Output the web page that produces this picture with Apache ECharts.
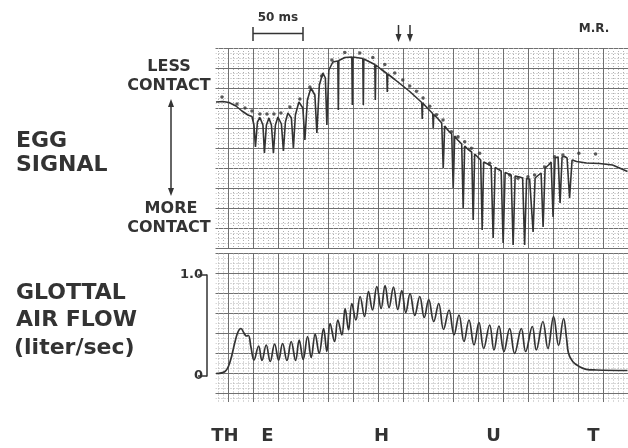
<!DOCTYPE html>
<html><head><meta charset="utf-8">
<script src="https://cdn.jsdelivr.net/npm/echarts@6/dist/echarts.min.js"></script>
<style>html,body{margin:0;padding:0;background:#fff}#c{width:628px;height:448px}</style>
</head><body><div id="c"></div>
<script>
// time axis: ms (grid paper, 25 ms per major division)
// EGG trace: level in grid divisions (0 = more contact, 10 = less contact)
const eggTime = [12.5,19.5,25.5,32.5,38.5,44.5,48.5,
 50.5,52,54,56.5, 59.5,61,63,65.5, 68,70,72,74.5, 78,80,82,84.5, 88,90,92,95.5,
 99.5,101.5,104,107.5, 111.5,113.5,116,119.5, 122,123.5,125.5,129.5,
 134.5,135,135.5,141.5, 148.5,149,149.5, 159.5,160,160.5,165.5, 171.5,172,172.5,177.5,
 183.5,184,184.5,191.5,196.5,201.5,206.5,212.5, 218.5,219,219.5,224.5, 229.5,230,230.5,234.5,
 238.5,240,241.5,244.5, 248.5,250,251.5,254.5, 258.5,260,261.5,264.5, 268.5,270,271.5,274.5,
 277.5,279,280.5,284.5, 288,290,292,295.5, 298,300,302,305.5, 308,310,312,316.5,
 319.5,321.5,323.5,326.5, 328,330,332,335.5, 338,340,342,345.5, 348,350,352, 355,357,359,361.5,
 364,366.5,369,373.5,383.5,396.5,409.5,416.5,424.5];
const eggLevel = [7.3,7.325,7.275,7.1,6.85,6.65,6.575,
 6.15,5.05,6.3,6.525, 6.15,4.75,6.15,6.5, 6.15,4.75,6.15,6.55, 6.2,4.85,6.3,6.75, 6.5,5.0,6.65,7.3,
 7.0,5.4,7.4,8.0, 7.65,5.75,8.15,8.75, 8.5,6.15,8.9,9.3,
 9.35,6.9,9.375,9.525, 9.55,7.15,9.55, 9.475,7.15,9.45,9.325, 9.175,7.4,9.15,8.95,
 8.725,7.8,8.7,8.425,8.225,8.025,7.825,7.55, 7.275,6.45,7.25,6.975, 6.725,6.0,6.675,6.475,
 6.25,4.0,6.1,5.9, 5.7,3.0,5.6,5.4, 5.2,2.0,5.1,4.95, 4.8,1.4,4.7,4.55,
 4.4,0.9,4.3,4.2, 4.1,0.5,4.025,3.925, 3.85,0.25,3.775,3.7, 3.65,0.15,3.6,3.55,
 3.5,0.15,3.475,3.45, 3.4,0.8,3.5,3.65, 3.75,1.05,4.0,4.15, 4.3,1.55,4.5, 4.55,2.25,4.55,4.575,
 4.5,2.5,4.4,4.325,4.25,4.225,4.15,4.0,3.825];
// dots drawn above the EGG trace
const dotTime = [18.5,33.5,41.5,48.5,56.5,63.5,70.5,77.5,86.5,96.5,106.5,118.2,128.5,141.5,156.5,169.5,181.5,191.5,199.5,206.5,213.2,219.8,226.5,233.2,239.8,248.2,254.8,261.5,268.2,276.5,286.5,306.5,314.8,324.8,331.5,341.5,351.5,359.8,375.8,392.5];
const dotLevel = [7.55,7.2,7.0,6.85,6.7,6.7,6.7,6.75,7.05,7.45,8.05,8.6,9.4,9.775,9.75,9.525,9.175,8.75,8.4,8.1,7.835,7.5,7.085,6.665,6.4,5.815,5.565,5.315,4.985,4.735,4.235,3.65,3.485,3.565,3.65,4.05,4.565,4.65,4.735,4.7];
// glottal air flow (liter/sec)
const flowTime = [12.5,21.5,26.5,31.5,34.5,37.5,40.5,43,45,47.5,50.5,
 55.2,58.5,62.8,66.8,71.2,75.2,79.2,83.5,87.8,92.2,95.8,99.8,104.2,107.8,111.8,115.8,120.2,123.5,
 126.8,131.2,134.5,138.5,141.8,145.2,148.5,152.5,156.8,161.2,165.2,169.2,173.5,177.8,181.8,185.8,
 190.2,194.5,198.5,202.5,206.8,211.5,216.5,221,225.5,230.5,235.5,240.3,245.8,250.8,255.8,260.8,265.8,270.8,
 275.8,280.5,286.5,290.8,295.8,300.8,306.5,311.5,318.2,322.5,329.2,333.2,339.8,344.8,350.5,355.5,
 360.5,363.5,365.5,369.8,376.5,383.2,393.2,424.5];
const flowValue = [0.0,0.02,0.115,0.315,0.415,0.45,0.405,0.375,0.38,0.265,0.135,
 0.275,0.13,0.285,0.12,0.295,0.135,0.30,0.13,0.32,0.13,0.335,0.14,0.37,0.16,0.395,0.20,0.45,0.22,
 0.50,0.32,0.535,0.385,0.65,0.435,0.70,0.535,0.77,0.57,0.82,0.635,0.87,0.65,0.88,0.66,
 0.865,0.64,0.83,0.61,0.80,0.58,0.77,0.56,0.74,0.52,0.70,0.44,0.635,0.385,0.585,0.32,0.535,0.285,
 0.51,0.25,0.485,0.235,0.475,0.22,0.45,0.20,0.45,0.22,0.47,0.235,0.52,0.25,0.57,0.28,
 0.55,0.35,0.20,0.118,0.068,0.042,0.035,0.03];
const flowTicks = [0, 1];
const flowTickLabels = ['0', '1.0'];
const segmentLabels = ['TH', 'E', 'H', 'U', 'T'];

const zip = (a, b) => a.map((v, i) => [v, b[i]]);
const INK = '#333';
const FONT = '"DejaVu Sans", sans-serif';
const majorLine = { show: true, lineStyle: { color: '#707070', width: 1 } };
const minorLine = { show: true, lineStyle: { color: '#b0b0b0', width: 1, type: [1, 2] } };
function timeAxis(g) {
  return { type: 'value', gridIndex: g, min: 0, max: 425, interval: 25,
    axisLine: { show: false }, axisTick: { show: false }, axisLabel: { show: false },
    splitLine: majorLine, minorTick: { show: false, splitNumber: 5 }, minorSplitLine: minorLine };
}
const chart = echarts.init(document.getElementById('c'), null, { renderer: 'canvas' });
const T = (text, x, y, size, align) => ({ type: 'text', z: 20, x, y,
  style: { text, font: 'bold ' + size + 'px ' + FONT, fill: INK, align: align || 'left', verticalAlign: 'middle',
    textAlign: align || 'left', textVerticalAlign: 'middle' } });
const L = (x1, y1, x2, y2) => ({ type: 'line', z: 20, shape: { x1, y1, x2, y2 }, style: { stroke: INK, lineWidth: 1.5 } });
const P = (pts) => ({ type: 'polygon', z: 20, shape: { points: pts }, style: { fill: INK } });
const segX = [225, 267.5, 381.5, 493.5, 593.5];
chart.setOption({
  animation: false,
  backgroundColor: '#fff',
  grid: [
    { left: 203.5, top: 48, width: 425, height: 200 },
    { left: 203.5, top: 253.5, width: 425, height: 160 },
    { left: 207, top: 275, width: 1, height: 101 }
  ],
  xAxis: [timeAxis(0), timeAxis(1), { type: 'value', gridIndex: 2, show: false }],
  yAxis: [
    { type: 'value', gridIndex: 0, min: 0, max: 10, interval: 1,
      axisLine: { show: false }, axisTick: { show: false }, axisLabel: { show: false },
      splitLine: majorLine, minorTick: { show: false, splitNumber: 4 }, minorSplitLine: minorLine },
    { type: 'value', gridIndex: 1, min: -0.4, max: 1.2, interval: 0.2,
      axisLine: { show: false }, axisTick: { show: false }, axisLabel: { show: false },
      splitLine: majorLine, minorTick: { show: false, splitNumber: 4 }, minorSplitLine: minorLine },
    { type: 'value', gridIndex: 2, min: 0, max: 1, interval: 1, z: 20,
      axisLine: { show: true, lineStyle: { color: INK, width: 1.5 } },
      axisTick: { show: true, length: 9, lineStyle: { color: INK, width: 1.5 } },
      splitLine: { show: false },
      axisLabel: { show: true, margin: 4, color: INK, fontSize: 13, fontWeight: 'bold', fontFamily: 'DejaVu Sans',
        formatter: v => flowTickLabels[flowTicks.indexOf(v)] } }
  ],
  series: [
    { type: 'line', xAxisIndex: 0, yAxisIndex: 0, data: zip(eggTime, eggLevel), showSymbol: false,
      lineStyle: { color: INK, width: 1.6 }, z: 5 },
    { type: 'scatter', xAxisIndex: 0, yAxisIndex: 0, data: zip(dotTime, dotLevel), symbolSize: 3.5,
      itemStyle: { color: INK }, z: 5 },
    { type: 'line', xAxisIndex: 1, yAxisIndex: 1, data: zip(flowTime, flowValue), showSymbol: false, smooth: 0.4,
      lineStyle: { color: INK, width: 1.7 }, z: 5 }
  ],
  graphic: { elements: [
    { type: 'rect', z: 1, shape: { x: 0, y: 40, width: 215.5, height: 380 }, style: { fill: '#fff' } },
    { type: 'rect', z: 1, shape: { x: 200, y: 402, width: 440, height: 20 }, style: { fill: '#fff' } },
    T('50 ms', 278, 18, 12, 'center'),
    L(253, 33.5, 303, 33.5), L(253, 27, 253, 41), L(303, 27, 303, 41),
    L(398.5, 25, 398.5, 37), P([[395.5, 34], [401.5, 34], [398.5, 42]]),
    L(410, 25, 410, 37), P([[407, 34], [413, 34], [410, 42]]),
    T('M.R.', 594, 29, 12, 'center'),
    T('LESS', 169, 67, 16, 'center'), T('CONTACT', 169, 85.5, 16, 'center'),
    L(171, 104, 171, 191), P([[168, 107], [174, 107], [171, 99]]), P([[168, 188], [174, 188], [171, 196]]),
    T('MORE', 171, 209, 16, 'center'), T('CONTACT', 169, 227.5, 16, 'center'),
    T('EGG', 16, 141, 22, 'left'), T('SIGNAL', 16, 165, 22, 'left'),
    T('GLOTTAL', 16, 293, 22, 'left'), T('AIR FLOW', 16, 320, 22, 'left'), T('(liter/sec)', 14, 348, 22, 'left'),
    ...segmentLabels.map((s, i) => T(s, segX[i], 436, 18, 'center'))
  ] }
});
</script></body></html>
